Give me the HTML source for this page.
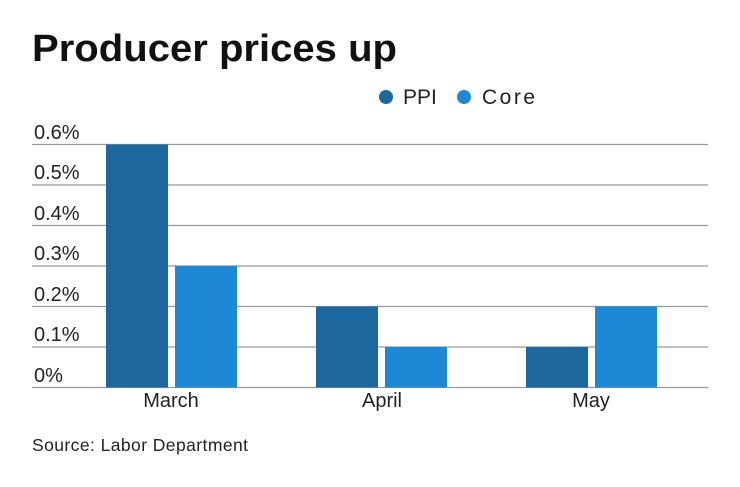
<!DOCTYPE html><html><head><style>
body{margin:0;background:#fff;width:740px;height:482px;overflow:hidden;font-family:"Liberation Sans",sans-serif}
</style></head><body>
<svg width="740" height="482" xmlns="http://www.w3.org/2000/svg" font-family="Liberation Sans, sans-serif">
<text x="32" y="61" font-size="38" font-weight="bold" fill="#111" textLength="365" lengthAdjust="spacingAndGlyphs">Producer prices up</text>
<circle cx="386" cy="97" r="7" fill="#1b679e"/><text x="403" y="104" font-size="21" fill="#222">PPI</text>
<circle cx="464" cy="97" r="7" fill="#1d88d6"/><text x="482" y="104" font-size="21" fill="#222" textLength="53">Core</text>
<g stroke="#999" stroke-width="1.2">
<line x1="32" x2="708" y1="144.5" y2="144.5"/><line x1="32" x2="708" y1="185" y2="185"/><line x1="32" x2="708" y1="225.5" y2="225.5"/><line x1="32" x2="708" y1="266" y2="266"/><line x1="32" x2="708" y1="306.5" y2="306.5"/><line x1="32" x2="708" y1="347" y2="347"/><line x1="32" x2="708" y1="387.5" y2="387.5"/>
</g>
<g font-size="20" fill="#222">
<text x="34" y="139">0.6%</text><text x="34" y="179">0.5%</text><text x="34" y="220">0.4%</text><text x="34" y="260">0.3%</text><text x="34" y="301">0.2%</text><text x="34" y="341">0.1%</text><text x="34" y="382">0%</text>
</g>
<rect x="106" y="144.5" width="62" height="243" fill="#1b679e"/>
<rect x="175" y="266" width="62" height="121.5" fill="#1d88d6"/>
<rect x="316" y="306.5" width="62" height="81" fill="#1b679e"/>
<rect x="385" y="347" width="62" height="40.5" fill="#1d88d6"/>
<rect x="526" y="347" width="62" height="40.5" fill="#1b679e"/>
<rect x="595" y="306.5" width="62" height="81" fill="#1d88d6"/>
<g font-size="20" fill="#222" text-anchor="middle">
<text x="171" y="407">March</text><text x="382" y="407">April</text><text x="591" y="407">May</text>
</g>
<text x="32" y="451" font-size="17.5" fill="#222" textLength="216">Source: Labor Department</text>
</svg>
</body></html>
